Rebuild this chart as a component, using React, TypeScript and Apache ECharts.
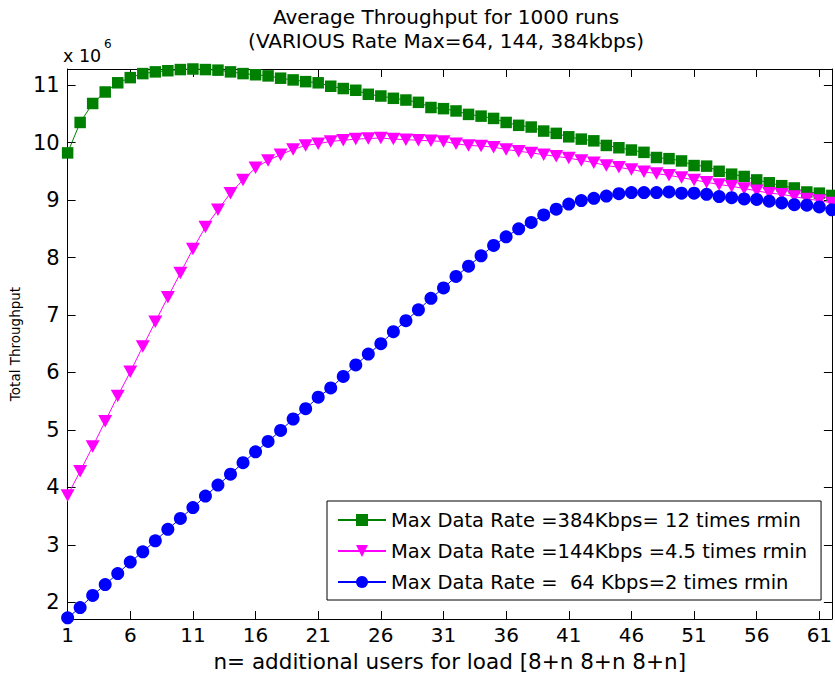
import React, { useEffect, useRef } from 'react';
import * as echarts from 'echarts';

const FONT = 'DejaVu Sans';

const categories: string[] = Array.from({ length: 62 }, (_, i) => String(i + 1));
const yTicks: number[] = [2, 3, 4, 5, 6, 7, 8, 9, 10, 11];

const seriesNames: string[] = [
  'Max Data Rate =384Kbps= 12 times rmin',
  'Max Data Rate =144Kbps =4.5 times rmin',
  'Max Data Rate =  64 Kbps=2 times rmin',
];

// values in units of 10^6
const rate384: number[] = [
  9.82, 10.35, 10.68, 10.88, 11.04, 11.13, 11.2, 11.23, 11.25, 11.27,
  11.28, 11.27, 11.26, 11.23, 11.2, 11.18, 11.16, 11.12, 11.09, 11.06,
  11.04, 10.98, 10.94, 10.91, 10.84, 10.81, 10.77, 10.74, 10.7, 10.61,
  10.59, 10.55, 10.49, 10.46, 10.42, 10.35, 10.3, 10.27, 10.2, 10.16,
  10.1, 10.06, 10.03, 9.95, 9.91, 9.87, 9.83, 9.74, 9.72, 9.68,
  9.6, 9.59, 9.5, 9.45, 9.41, 9.35, 9.3, 9.25, 9.21, 9.14,
  9.12, 9.08,
];

const rate144: number[] = [
  3.86, 4.28, 4.71, 5.15, 5.59, 6.01, 6.45, 6.88, 7.31, 7.73,
  8.15, 8.53, 8.83, 9.12, 9.35, 9.56, 9.69, 9.79, 9.88, 9.95,
  9.98, 10.02, 10.04, 10.06, 10.07, 10.08, 10.06, 10.05, 10.04, 10.03,
  10.02, 9.98, 9.95, 9.94, 9.92, 9.88, 9.85, 9.82, 9.79, 9.76,
  9.73, 9.69, 9.65, 9.6, 9.57, 9.53, 9.49, 9.46, 9.43, 9.39,
  9.35, 9.31, 9.27, 9.24, 9.2, 9.16, 9.12, 9.1, 9.06, 9.02,
  8.99, 8.95,
];

const rate64: number[] = [
  1.73, 1.91, 2.12, 2.31, 2.5, 2.7, 2.88, 3.07, 3.27, 3.46,
  3.65, 3.85, 4.04, 4.23, 4.43, 4.62, 4.8, 4.99, 5.19, 5.37,
  5.57, 5.73, 5.93, 6.13, 6.32, 6.5, 6.71, 6.9, 7.09, 7.29,
  7.47, 7.67, 7.85, 8.03, 8.21, 8.36, 8.5, 8.61, 8.74, 8.84,
  8.93, 8.99, 9.03, 9.07, 9.11, 9.13, 9.13, 9.13, 9.14, 9.12,
  9.12, 9.1, 9.06, 9.04, 9.02, 9.01, 8.98, 8.95, 8.92, 8.91,
  8.88, 8.83,
];

const Y_MIN = 1.71;
const Y_MAX = 11.28;

export default function App() {
  const ref = useRef<HTMLDivElement>(null);

  useEffect(() => {
    if (!ref.current) return;
    const chart = echarts.init(ref.current, undefined, { renderer: 'svg' });
    const axisLine = { show: true, lineStyle: { color: '#000', width: 1 } };
    const option: any = {
      animation: false,
      backgroundColor: '#fff',
      textStyle: { fontFamily: FONT },
      title: {
        text: 'Average Throughput for 1000 runs\n(VARIOUS Rate Max=64, 144, 384kbps)',
        left: 446,
        top: 5,
        padding: 0,
        textAlign: 'center',
        textStyle: {
          fontFamily: FONT,
          fontSize: 20,
          fontWeight: 'normal',
          color: '#000',
          lineHeight: 24,
        },
      },
      grid: { left: 63, right: 2, top: 69, bottom: 57, containLabel: false },
      legend: {
        orient: 'vertical',
        left: 327,
        top: 501,
        padding: [9, 14, 8, 10],
        itemWidth: 48,
        itemHeight: 15,
        itemGap: 11,
        backgroundColor: '#fff',
        borderColor: '#000',
        borderWidth: 1,
        borderRadius: 0,
        textStyle: { fontFamily: FONT, fontSize: 19.5, color: '#000', lineHeight: 20 },
        data: seriesNames,
      },
      xAxis: [
        {
          type: 'category',
          data: categories,
          boundaryGap: false,
          position: 'bottom',
          axisLine,
          axisTick: { show: true, inside: true, length: 8, interval: 4, lineStyle: { color: '#000' } },
          axisLabel: { show: true, interval: 4, color: '#000', fontSize: 20, fontFamily: FONT, margin: 6 },
          splitLine: { show: false },
          name: 'n= additional users for load [8+n 8+n 8+n]',
          nameLocation: 'middle',
          nameGap: 31,
          nameTextStyle: { color: '#000', fontSize: 21.5, fontFamily: FONT },
        },
        {
          type: 'category',
          data: categories,
          boundaryGap: false,
          position: 'top',
          axisLine,
          axisTick: { show: true, inside: true, length: 8, interval: 4, lineStyle: { color: '#000' } },
          axisLabel: { show: false },
          splitLine: { show: false },
        },
      ],
      yAxis: [
        {
          type: 'value',
          min: Y_MIN,
          max: Y_MAX,
          position: 'left',
          axisLine,
          axisTick: { show: true, inside: true, length: 8, customValues: yTicks, lineStyle: { color: '#000' } },
          axisLabel: { show: true, customValues: yTicks, color: '#000', fontSize: 21, fontFamily: FONT, margin: 8 },
          splitLine: { show: false },
          name: 'Total Throughput',
          nameLocation: 'middle',
          nameRotate: 90,
          nameGap: 36,
          nameTextStyle: { color: '#000', fontSize: 13.5, fontFamily: FONT },
        },
        {
          type: 'value',
          min: Y_MIN,
          max: Y_MAX,
          position: 'right',
          axisLine,
          axisTick: { show: true, inside: true, length: 8, customValues: yTicks, lineStyle: { color: '#000' } },
          axisLabel: { show: false },
          splitLine: { show: false },
        },
      ],
      graphic: [
        {
          type: 'text',
          left: 63,
          top: 47,
          style: { text: 'x 10', fontFamily: FONT, fontSize: 17.5, fill: '#000' },
        },
        {
          type: 'text',
          left: 104,
          top: 38,
          style: { text: '6', fontFamily: FONT, fontSize: 12, fill: '#000' },
        },
      ],
      series: [
        {
          name: seriesNames[0],
          type: 'line',
          data: rate384,
          symbol: 'rect',
          symbolSize: 11.5,
          showSymbol: true,
          showAllSymbol: true,
          clip: false,
          color: '#008000',
          itemStyle: { color: '#008000' },
          lineStyle: { color: '#008000', width: 1 },
        },
        {
          name: seriesNames[1],
          type: 'line',
          data: rate144,
          symbol: 'triangle',
          symbolRotate: 180,
          symbolSize: [14, 12.5],
          showSymbol: true,
          showAllSymbol: true,
          clip: false,
          color: '#ff00ff',
          itemStyle: { color: '#ff00ff' },
          lineStyle: { color: '#ff00ff', width: 1 },
        },
        {
          name: seriesNames[2],
          type: 'line',
          data: rate64,
          symbol: 'circle',
          symbolSize: 13,
          showSymbol: true,
          showAllSymbol: true,
          clip: false,
          color: '#0000ff',
          itemStyle: { color: '#0000ff' },
          lineStyle: { color: '#0000ff', width: 1 },
        },
      ],
    };
    chart.setOption(option);
    return () => {
      chart.dispose();
    };
  }, []);

  return (
    <div
      ref={ref}
      style={{ position: 'absolute', left: 0, top: 0, width: 835, height: 677, background: '#fff' }}
    />
  );
}
